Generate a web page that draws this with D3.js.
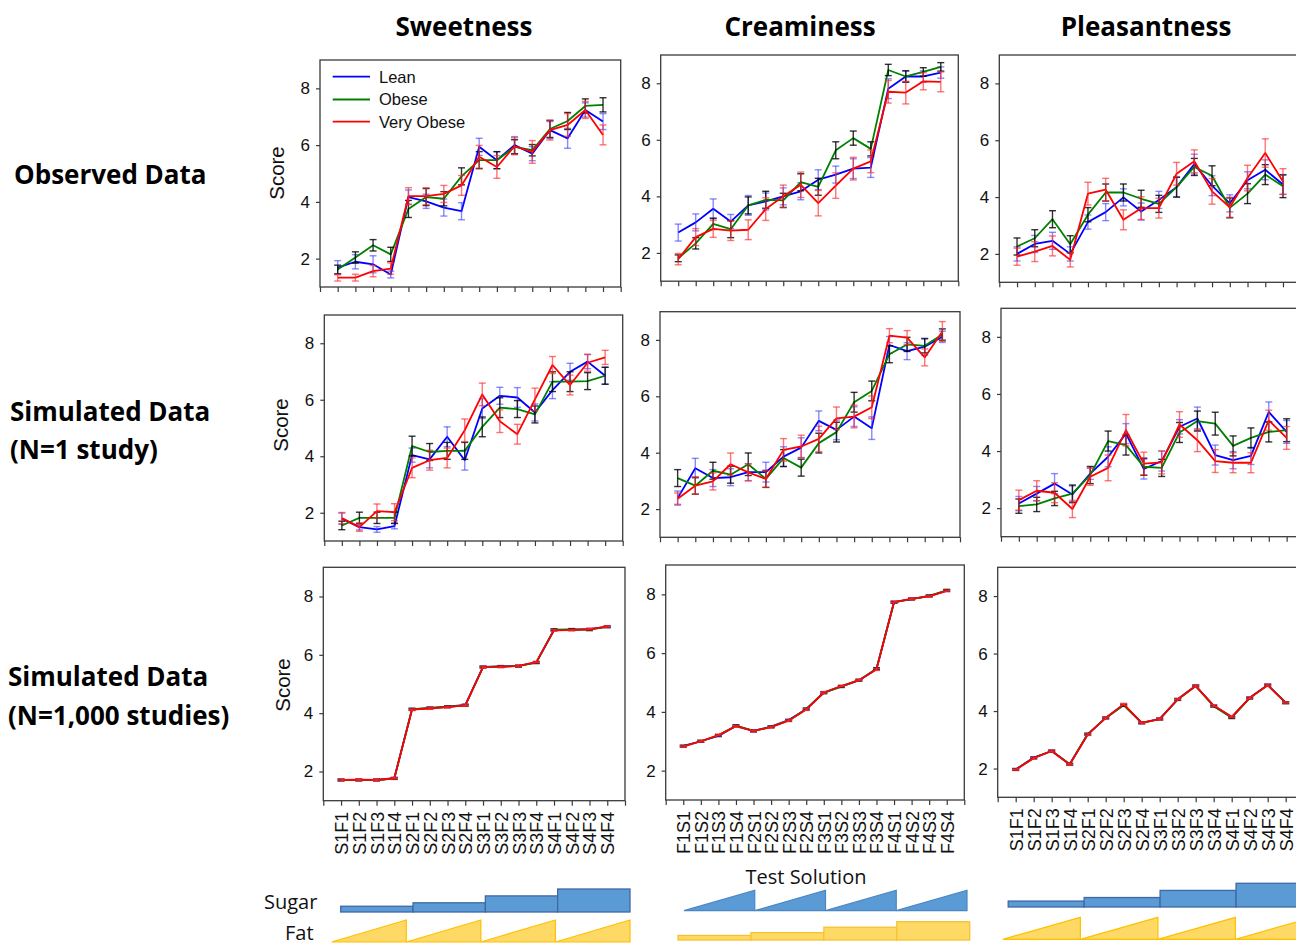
<!DOCTYPE html>
<html><head><meta charset="utf-8">
<script src="https://cdn.jsdelivr.net/npm/d3@7"></script>
<style>body{margin:0;background:#fff} svg{display:block}</style>
</head><body>
<svg id="chart" width="1296" height="946"></svg>
<script>
// ---------------- DATA ----------------
const categoriesSF = ["S1F1","S1F2","S1F3","S1F4","S2F1","S2F2","S2F3","S2F4","S3F1","S3F2","S3F3","S3F4","S4F1","S4F2","S4F3","S4F4"];
const categoriesFS = ["F1S1","F1S2","F1S3","F1S4","F2S1","F2S2","F2S3","F2S4","F3S1","F3S2","F3S3","F3S4","F4S1","F4S2","F4S3","F4S4"];
const seriesNames = ["Lean","Obese","Very Obese"];
const columnTitles = ["Sweetness","Creaminess","Pleasantness"];
const rowTitles = [["Observed Data"],["Simulated Data","(N=1 study)"],["Simulated Data","(N=1,000 studies)"]];
const yTickValues = [2,4,6,8];
const sugarLabel = "Sugar", fatLabel = "Fat", xAxisTitle = "Test Solution";
const stepLevels = [0.25,0.4,0.7,1.0];

// Observed - Sweetness
const obsSweetLean     = [1.68,1.89,1.80,1.44,4.17,4.02,3.80,3.67,5.94,5.47,6.00,5.70,6.53,6.24,7.24,6.83];
const obsSweetLeanErr  = [0.25,0.25,0.30,0.12,0.25,0.25,0.30,0.30,0.30,0.30,0.30,0.25,0.30,0.35,0.25,0.28];
const obsSweetObese    = [1.62,2.04,2.47,2.15,3.75,4.17,4.11,4.90,5.47,5.47,5.94,5.82,6.57,6.85,7.38,7.42];
const obsSweetObeseErr = [0.15,0.20,0.20,0.25,0.30,0.30,0.25,0.30,0.30,0.30,0.25,0.20,0.30,0.30,0.25,0.25];
const obsSweetVery     = [1.33,1.33,1.56,1.65,4.20,4.20,4.28,4.58,5.59,5.23,5.96,5.76,6.53,6.71,7.24,6.36];
const obsSweetVeryErr  = [0.12,0.12,0.20,0.20,0.30,0.30,0.30,0.35,0.40,0.40,0.30,0.40,0.35,0.40,0.30,0.35];
// Observed - Creaminess
const obsCreamLean     = [2.72,3.08,3.56,3.11,3.68,3.82,4.00,4.18,4.59,4.77,4.98,5.02,7.81,8.24,8.24,8.38];
const obsCreamLeanErr  = [0.30,0.30,0.35,0.25,0.35,0.30,0.30,0.30,0.35,0.30,0.35,0.35,0.35,0.20,0.20,0.20];
const obsCreamObese    = [1.81,2.34,3.03,2.84,3.68,3.88,3.86,4.50,4.34,5.63,6.06,5.68,8.47,8.24,8.40,8.58];
const obsCreamObeseErr = [0.12,0.20,0.20,0.30,0.30,0.30,0.25,0.30,0.30,0.30,0.25,0.25,0.20,0.20,0.15,0.15];
const obsCreamVery     = [1.78,2.56,2.85,2.79,2.82,3.55,4.00,4.41,3.76,4.38,4.98,5.24,7.70,7.67,8.07,8.05];
const obsCreamVeryErr  = [0.20,0.30,0.30,0.35,0.35,0.40,0.40,0.45,0.45,0.45,0.40,0.40,0.40,0.40,0.30,0.35];
// Observed - Pleasantness
const obsPleasLean     = [2.00,2.35,2.46,2.00,3.12,3.47,3.99,3.49,3.90,4.35,5.16,4.40,3.78,4.59,4.96,4.44];
const obsPleasLeanErr  = [0.25,0.30,0.30,0.25,0.25,0.30,0.30,0.30,0.30,0.35,0.35,0.35,0.30,0.30,0.35,0.35];
const obsPleasObese    = [2.26,2.55,3.22,2.34,3.38,4.16,4.16,3.94,3.76,4.35,5.06,4.75,3.62,4.12,4.79,4.38];
const obsPleasObeseErr = [0.30,0.30,0.30,0.30,0.25,0.30,0.30,0.30,0.30,0.35,0.30,0.35,0.35,0.35,0.35,0.40];
const obsPleasVery     = [1.90,2.08,2.28,1.79,4.12,4.26,3.20,3.61,3.61,4.82,5.26,4.20,3.64,4.67,5.55,4.55];
const obsPleasVeryErr  = [0.30,0.35,0.35,0.25,0.40,0.40,0.35,0.40,0.35,0.40,0.40,0.45,0.35,0.45,0.50,0.45];

// Simulated N=1 - Sweetness
const sim1SweetLean     = [1.79,1.49,1.41,1.53,4.04,3.89,4.69,3.86,5.69,6.14,6.08,5.55,6.34,6.99,7.35,6.85];
const sim1SweetLeanErr  = [0.20,0.10,0.10,0.10,0.25,0.30,0.35,0.35,0.35,0.30,0.35,0.30,0.30,0.30,0.25,0.30];
const sim1SweetObese    = [1.55,1.82,1.82,1.82,4.36,4.15,4.19,4.19,5.04,5.72,5.67,5.48,6.64,6.64,6.66,6.85];
const sim1SweetObeseErr = [0.15,0.20,0.20,0.20,0.35,0.30,0.30,0.30,0.35,0.35,0.30,0.30,0.35,0.35,0.30,0.30];
const sim1SweetVery     = [1.81,1.49,2.06,2.02,3.59,3.86,3.94,4.92,6.19,5.24,4.78,6.01,7.23,6.52,7.31,7.50];
const sim1SweetVeryErr  = [0.20,0.15,0.25,0.30,0.35,0.35,0.35,0.40,0.40,0.40,0.35,0.40,0.30,0.35,0.30,0.25];
// Simulated N=1 - Creaminess
const sim1CreamLean     = [2.39,3.45,3.10,3.13,3.31,3.31,3.86,4.18,5.13,4.81,5.28,4.87,7.82,7.60,7.76,8.11];
const sim1CreamLeanErr  = [0.25,0.35,0.30,0.30,0.30,0.35,0.35,0.35,0.35,0.35,0.35,0.40,0.30,0.30,0.30,0.20];
const sim1CreamObese    = [3.10,2.83,3.36,3.22,3.59,3.07,3.81,3.47,4.34,4.73,5.79,6.19,7.49,7.84,7.79,8.19];
const sim1CreamObeseErr = [0.30,0.30,0.30,0.30,0.40,0.30,0.30,0.30,0.35,0.35,0.35,0.35,0.30,0.25,0.25,0.20];
const sim1CreamVery     = [2.37,2.83,2.98,3.59,3.30,3.07,4.10,4.22,4.49,5.22,5.28,5.61,8.15,8.08,7.38,8.30];
const sim1CreamVeryErr  = [0.20,0.30,0.30,0.40,0.30,0.30,0.40,0.40,0.45,0.40,0.40,0.40,0.25,0.25,0.30,0.35];
// Simulated N=1 - Pleasantness
const sim1PleasLean     = [2.16,2.51,2.86,2.48,3.21,3.80,4.61,3.37,3.65,4.85,5.14,3.86,3.68,3.83,5.37,4.67];
const sim1PleasLeanErr  = [0.25,0.25,0.35,0.30,0.20,0.35,0.35,0.35,0.35,0.25,0.40,0.35,0.30,0.30,0.35,0.40];
const sim1PleasObese    = [2.07,2.13,2.34,2.51,3.16,4.35,4.21,3.45,3.41,4.65,5.05,4.96,4.18,4.46,4.67,4.73];
const sim1PleasObeseErr = [0.25,0.25,0.25,0.30,0.30,0.35,0.35,0.30,0.30,0.35,0.35,0.40,0.35,0.35,0.35,0.40];
const sim1PleasVery     = [2.28,2.61,2.54,1.97,3.10,3.41,4.73,3.56,3.60,4.93,4.38,3.65,3.59,3.59,5.08,4.46];
const sim1PleasVeryErr  = [0.35,0.35,0.35,0.30,0.30,0.45,0.55,0.40,0.40,0.45,0.40,0.40,0.35,0.35,0.35,0.40];

// Simulated N=1,000 - Sweetness
const simKSweetLean  = [1.71,1.71,1.71,1.77,4.13,4.17,4.22,4.28,5.59,5.60,5.62,5.74,6.85,6.86,6.88,6.97];
const simKSweetObese = [1.71,1.71,1.71,1.76,4.14,4.18,4.22,4.27,5.58,5.60,5.61,5.73,6.86,6.87,6.86,6.96];
const simKSweetVery  = [1.71,1.72,1.71,1.77,4.12,4.16,4.21,4.27,5.58,5.59,5.62,5.75,6.84,6.85,6.88,6.97];
// Simulated N=1,000 - Creaminess
const simKCreamLean  = [2.84,3.00,3.18,3.52,3.35,3.50,3.72,4.09,4.66,4.87,5.07,5.46,7.74,7.85,7.94,8.13];
const simKCreamObese = [2.83,3.00,3.20,3.53,3.35,3.49,3.71,4.10,4.65,4.86,5.08,5.47,7.73,7.84,7.95,8.14];
const simKCreamVery  = [2.82,3.00,3.21,3.51,3.35,3.48,3.70,4.08,4.66,4.88,5.08,5.44,7.74,7.85,7.93,8.12];
// Simulated N=1,000 - Pleasantness
const simKPleasLean  = [1.97,2.38,2.61,2.15,3.19,3.76,4.22,3.59,3.73,4.41,4.88,4.18,3.79,4.46,4.91,4.29];
const simKPleasObese = [1.97,2.37,2.61,2.15,3.20,3.76,4.20,3.59,3.72,4.40,4.87,4.17,3.77,4.45,4.90,4.29];
const simKPleasVery  = [1.96,2.36,2.61,2.14,3.18,3.76,4.24,3.59,3.72,4.41,4.87,4.19,3.80,4.46,4.90,4.29];
const simKErr        = [0.03,0.03,0.03,0.03,0.03,0.03,0.03,0.03,0.03,0.03,0.03,0.03,0.03,0.03,0.03,0.03];

// ---------------- LAYOUT / STYLE ----------------
const seriesColors = ["#0000ff","#008000","#ff0000"];
const errColors = ["#3a3aff","#000000","#ff2a2a"];
const errOpacity = [0.6,0.8,0.65];
const axisFont = "'Liberation Sans', Arial, sans-serif";
const titleFont = "'Open Sans', 'DejaVu Sans', sans-serif";

const panelBoxes = [
  [{l:320,t:60,r:620.7,b:287},   {l:660.7,t:55,r:958.3,b:281.2}, {l:999.3,t:55,r:1300.7,b:282.3}],
  [{l:324.3,t:315,r:622.7,b:541},{l:660,t:311.7,r:960,b:537.3},  {l:1001,t:308.3,r:1304.5,b:536.7}],
  [{l:323.3,t:567.3,r:625,b:800.7},{l:665.7,t:565,r:964.3,b:800},{l:997.7,t:567.3,r:1303.7,b:797.3}]
];

const panelData = [
  [
    {cats:categoriesSF, s:[[obsSweetLean,obsSweetLeanErr],[obsSweetObese,obsSweetObeseErr],[obsSweetVery,obsSweetVeryErr]]},
    {cats:categoriesFS, s:[[obsCreamLean,obsCreamLeanErr],[obsCreamObese,obsCreamObeseErr],[obsCreamVery,obsCreamVeryErr]]},
    {cats:categoriesSF, s:[[obsPleasLean,obsPleasLeanErr],[obsPleasObese,obsPleasObeseErr],[obsPleasVery,obsPleasVeryErr]]}
  ],
  [
    {cats:categoriesSF, s:[[sim1SweetLean,sim1SweetLeanErr],[sim1SweetObese,sim1SweetObeseErr],[sim1SweetVery,sim1SweetVeryErr]]},
    {cats:categoriesFS, s:[[sim1CreamLean,sim1CreamLeanErr],[sim1CreamObese,sim1CreamObeseErr],[sim1CreamVery,sim1CreamVeryErr]]},
    {cats:categoriesSF, s:[[sim1PleasLean,sim1PleasLeanErr],[sim1PleasObese,sim1PleasObeseErr],[sim1PleasVery,sim1PleasVeryErr]]}
  ],
  [
    {cats:categoriesSF, s:[[simKSweetLean,simKErr],[simKSweetObese,simKErr],[simKSweetVery,simKErr]]},
    {cats:categoriesFS, s:[[simKCreamLean,simKErr],[simKCreamObese,simKErr],[simKCreamVery,simKErr]]},
    {cats:categoriesSF, s:[[simKPleasLean,simKErr],[simKPleasObese,simKErr],[simKPleasVery,simKErr]]}
  ]
];

const svg = d3.select('#chart');
svg.append('rect').attr('width',1296).attr('height',946).attr('fill','#fff');

function drawPanel(box, pd, rowIdx, colIdx) {
  const x = d3.scaleLinear().domain([0,17]).range([box.l, box.r]);
  const y = d3.scaleLinear().domain([1,9]).range([box.b, box.t]);
  const g = svg.append('g');

  // frame
  g.append('rect').attr('x',box.l).attr('y',box.t)
    .attr('width',box.r-box.l).attr('height',box.b-box.t)
    .attr('fill','none').attr('stroke','#3a3a3a').attr('stroke-width',1.3);

  // y axis
  const ya = g.append('g').attr('transform',`translate(${box.l},0)`)
    .call(d3.axisLeft(y).tickValues(yTickValues).tickSize(4).tickPadding(6).tickFormat(d3.format('d')));
  ya.select('.domain').remove();
  ya.selectAll('line').attr('stroke','#3a3a3a').attr('stroke-width',1.2);
  ya.selectAll('text').attr('font-family',axisFont).attr('font-size',17).attr('fill','#111');

  // x axis
  const showX = rowIdx === 2;
  const xa = g.append('g').attr('transform',`translate(0,${box.b})`)
    .call(d3.axisBottom(x).tickValues(d3.range(0,18)).tickSize(5)
      .tickFormat(i => (showX && i>=1 && i<=16) ? pd.cats[i-1] : ''));
  xa.select('.domain').remove();
  xa.selectAll('line').attr('stroke','#3a3a3a').attr('stroke-width',1.2);
  xa.selectAll('text').attr('font-family',axisFont).attr('font-size',18).attr('fill','#111')
    .attr('transform','rotate(-90)').attr('text-anchor','end')
    .attr('x',-11).attr('y',0).attr('dy','0.36em');

  // series
  const line = d3.line().x((d,i)=>x(i+1)).y(d=>y(d));
  pd.s.forEach(([vals, errs], si) => {
    g.append('path').datum(vals).attr('d',line).attr('fill','none')
      .attr('stroke',seriesColors[si]).attr('stroke-width',1.8).attr('stroke-linejoin','round');
    const eg = g.append('g').attr('stroke',errColors[si]).attr('stroke-opacity',errOpacity[si]).attr('stroke-width',1.4);
    vals.forEach((v,i) => {
      const cx = x(i+1), y0 = y(v-errs[i]), y1 = y(v+errs[i]);
      eg.append('line').attr('x1',cx).attr('x2',cx).attr('y1',y0).attr('y2',y1);
      eg.append('line').attr('x1',cx-3.5).attr('x2',cx+3.5).attr('y1',y0).attr('y2',y0);
      eg.append('line').attr('x1',cx-3.5).attr('x2',cx+3.5).attr('y1',y1).attr('y2',y1);
    });
  });

  // Score label (first column)
  if (colIdx === 0) {
    const cxs = [276.5, 280.5, 282.5], cys = [173, 425, 685];
    g.append('text').attr('transform',`translate(${cxs[rowIdx]},${cys[rowIdx]}) rotate(-90)`)
      .attr('text-anchor','middle').attr('dy','0.36em')
      .attr('font-family',axisFont).attr('font-size',20.5).attr('fill','#111').text('Score');
  }

  // legend
  if (rowIdx === 0 && colIdx === 0) {
    const ly = [76.7, 99.5, 121.7];
    seriesNames.forEach((n,i) => {
      g.append('line').attr('x1',332.7).attr('x2',370).attr('y1',ly[i]).attr('y2',ly[i])
        .attr('stroke',seriesColors[i]).attr('stroke-width',1.8);
      g.append('text').attr('x',379).attr('y',ly[i]).attr('dy','0.36em')
        .attr('font-family',axisFont).attr('font-size',16.5).attr('fill','#111').text(n);
    });
  }
}

panelBoxes.forEach((row, ri) => row.forEach((box, ci) => drawPanel(box, panelData[ri][ci], ri, ci)));

// column titles
const colTitleX = [464, 800, 1146];
columnTitles.forEach((t,i) => {
  svg.append('text').attr('x',colTitleX[i]).attr('y',36).attr('text-anchor','middle')
    .attr('font-family',titleFont).attr('font-weight','bold').attr('font-size',26).attr('fill','#000').text(t);
});

// row titles
const rowTitleX = [14, 10, 8];
const rowTitleY = [[184],[421,459],[686,725]];
rowTitles.forEach((lines, ri) => lines.forEach((t, li) => {
  svg.append('text').attr('x',rowTitleX[ri]).attr('y',rowTitleY[ri][li])
    .attr('font-family',titleFont).attr('font-weight','bold').attr('font-size',26).attr('fill','#000').text(t);
}));

// x-axis title
svg.append('text').attr('x',806).attr('y',884).attr('text-anchor','middle')
  .attr('font-family',titleFont).attr('font-size',20).attr('fill','#111').text(xAxisTitle);

// sugar / fat labels
svg.append('text').attr('x',264).attr('y',909).attr('font-family',titleFont).attr('font-size',20).attr('fill','#111').text(sugarLabel);
svg.append('text').attr('x',285).attr('y',940).attr('font-family',titleFont).attr('font-size',20).attr('fill','#111').text(fatLabel);

// concentration glyphs
const sugarFill = "#5b9bd5", sugarStroke = "#3f68a6", fatFill = "#ffd966", fatStroke = "#ffc000";
function steps(x0, x1, bottom, maxH, fill, stroke) {
  const xs = d3.scaleLinear().domain([0,4]).range([x0,x1]);
  const hs = d3.scaleLinear().domain([0,1]).range([0,maxH]);
  stepLevels.forEach((lv,i) => {
    svg.append('rect').attr('x',xs(i)).attr('y',bottom-hs(lv)).attr('width',xs(i+1)-xs(i)).attr('height',hs(lv))
      .attr('fill',fill).attr('stroke',stroke).attr('stroke-width',1.3);
  });
}
function ramps(x0, x1, bottom, h, fill, stroke) {
  const xs = d3.scaleLinear().domain([0,4]).range([x0,x1]);
  stepLevels.forEach((lv,i) => {
    const a = xs(i), b = xs(i+1);
    svg.append('path').attr('d',`M${a},${bottom}L${b},${bottom-h}L${b},${bottom}Z`)
      .attr('fill',fill).attr('stroke',stroke).attr('stroke-width',1.2).attr('stroke-linejoin','miter');
  });
}
// Sweetness column: sugar steps, fat ramps
steps(340.7, 630, 912, 23, sugarFill, sugarStroke);
ramps(331.7, 630, 942, 22, fatFill, fatStroke);
// Creaminess column: sugar ramps, fat steps
ramps(684, 967, 910.7, 20.5, sugarFill, "#4a86c5");
steps(678, 969.7, 940, 18.3, fatFill, "#f7c232");
// Pleasantness column: sugar steps, fat ramps
steps(1008.2, 1312, 907, 23.7, sugarFill, sugarStroke);
ramps(1002.8, 1313, 939.3, 22, fatFill, fatStroke);
</script>
</body></html>
